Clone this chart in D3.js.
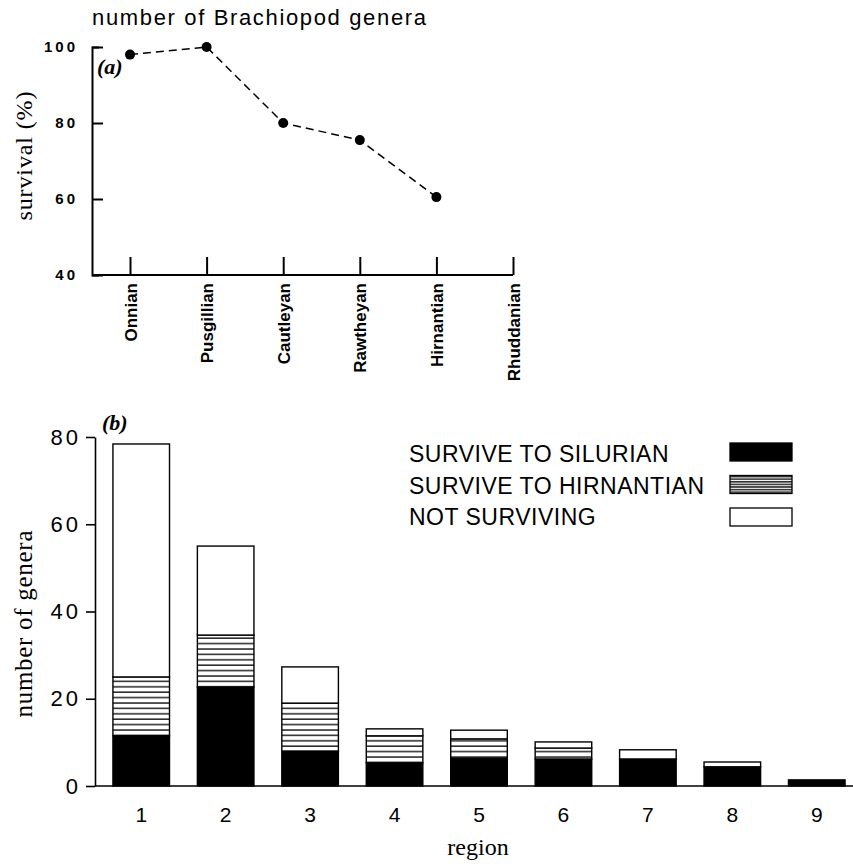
<!DOCTYPE html>
<html>
<head>
<meta charset="utf-8">
<script src="https://cdn.jsdelivr.net/npm/d3@7"></script>
<style>
  body { margin: 0; background: #fff; }
  svg { display: block; }
  .sans { font-family: "Liberation Sans", Arial, sans-serif; }
  .serif { font-family: "Liberation Serif", "Times New Roman", serif; }
</style>
</head>
<body>
<div id="chart"></div>
<script>
// (a) survival by stage
var stages = ["Onnian", "Pusgillian", "Cautleyan", "Rawtheyan", "Hirnantian", "Rhuddanian"];
var survival = [98, 100, 80, 75.5, 60.5];
var survivalTicks = [40, 60, 80, 100];

// (b) genera by region
var regions = ["1", "2", "3", "4", "5", "6", "7", "8", "9"];
var toSilurian   = [11.5, 22.7, 8, 5.3, 6.4, 6.2, 6.2, 4.4, 1.4];
var toHirnantian = [13.5, 11.9, 11, 6.2, 4.4, 2.5, 0, 0, 0];
var notSurviving = [53.4, 20.4, 8.3, 1.6, 2.0, 1.4, 2.1, 1.1, 0];
var generaTicks = [0, 20, 40, 60, 80];
var legendLabels = ["SURVIVE TO SILURIAN", "SURVIVE TO HIRNANTIAN", "NOT SURVIVING"];

var width = 853, height = 864;

var svg = d3.select("#chart")
  .append("svg")
  .attr("width", width)
  .attr("height", height);

var defs = svg.append("defs");

// hatch patterns
var hatch = defs.append("pattern")
  .attr("id", "hatch")
  .attr("patternUnits", "userSpaceOnUse")
  .attr("width", 10)
  .attr("height", 5.4);
hatch.append("rect").attr("width", 10).attr("height", 5.4).attr("fill", "#fff");
hatch.append("line").attr("x1", 0).attr("x2", 10).attr("y1", 1).attr("y2", 1)
  .attr("stroke", "#000").attr("stroke-width", 1.3);

var hatchSmall = defs.append("pattern")
  .attr("id", "hatchSmall")
  .attr("patternUnits", "userSpaceOnUse")
  .attr("width", 10)
  .attr("height", 2.6);
hatchSmall.append("rect").attr("width", 10).attr("height", 2.6).attr("fill", "#fff");
hatchSmall.append("line").attr("x1", 0).attr("x2", 10).attr("y1", 0.8).attr("y2", 0.8)
  .attr("stroke", "#000").attr("stroke-width", 1.3);

/* ---------- panel (a) ---------- */
var ax = d3.scalePoint().domain(stages).range([130, 513]);
var ay = d3.scaleLinear().domain([40, 100]).range([275, 47]);
var axLeft = 92;

svg.append("text")
  .attr("class", "sans")
  .attr("x", 92).attr("y", 25)
  .attr("font-size", 22)
  .attr("letter-spacing", 1.65)
  .text("number of Brachiopod genera");

var gya = svg.append("g")
  .attr("transform", "translate(" + axLeft + ",0)")
  .call(d3.axisLeft(ay).tickValues(survivalTicks).tickSize(-11).tickSizeOuter(-7).tickPadding(14));
gya.selectAll("path, line").attr("stroke", "#000").attr("stroke-width", 2);
gya.selectAll("text")
  .attr("class", "sans")
  .attr("font-size", 15)
  .attr("font-weight", "bold")
  .attr("letter-spacing", 3)
  .attr("fill", "#000");

var gxa = svg.append("g")
  .attr("transform", "translate(0,275)")
  .call(d3.axisBottom(ax).tickSize(-18).tickSizeOuter(0));
gxa.select(".domain").remove();
gxa.selectAll("line").attr("stroke", "#000").attr("stroke-width", 2);
gxa.selectAll("text")
  .attr("class", "sans")
  .attr("font-size", 17)
  .attr("font-weight", "bold")
  .attr("fill", "#000")
  .attr("text-anchor", "end")
  .attr("transform", "rotate(-90)")
  .attr("x", -8)
  .attr("y", 0)
  .attr("dy", "0.36em");

svg.append("line")
  .attr("x1", axLeft).attr("x2", ax(stages[stages.length - 1]))
  .attr("y1", ay(40)).attr("y2", ay(40))
  .attr("stroke", "#000").attr("stroke-width", 2);

var pts = survival.map(function(v, i) { return { stage: stages[i], value: v }; });

svg.append("path")
  .datum(pts)
  .attr("fill", "none")
  .attr("stroke", "#000")
  .attr("stroke-width", 1.5)
  .attr("stroke-dasharray", "8,5")
  .attr("d", d3.line().x(function(d) { return ax(d.stage); }).y(function(d) { return ay(d.value); }));

svg.selectAll("circle.pt")
  .data(pts)
  .enter().append("circle")
  .attr("class", "pt")
  .attr("cx", function(d) { return ax(d.stage); })
  .attr("cy", function(d) { return ay(d.value); })
  .attr("r", 5)
  .attr("fill", "#000");

svg.append("text")
  .attr("class", "serif")
  .attr("x", 97).attr("y", 74)
  .attr("font-size", 22)
  .attr("font-style", "italic")
  .attr("font-weight", "bold")
  .text("(a)");

svg.append("text")
  .attr("class", "serif")
  .attr("transform", "translate(32,156) rotate(-90)")
  .attr("text-anchor", "middle")
  .attr("font-size", 24)
  .attr("textLength", 129)
  .attr("lengthAdjust", "spacing")
  .text("survival (%)");

/* ---------- panel (b) ---------- */
var bxLeft = 95;
var bx = d3.scaleBand().domain(regions).range([99, 859]).paddingInner(0.33).paddingOuter(0.165);
var by = d3.scaleLinear().domain([0, 80]).range([786, 437]);

var rows = regions.map(function(r, i) {
  return { region: r, silurian: toSilurian[i], hirnantian: toHirnantian[i], none: notSurviving[i] };
});
var keys = ["silurian", "hirnantian", "none"];
var fills = { silurian: "#000", hirnantian: "url(#hatch)", none: "#fff" };
var series = d3.stack().keys(keys)(rows);

var gyb = svg.append("g")
  .attr("transform", "translate(" + bxLeft + ",0)")
  .call(d3.axisLeft(by).tickValues(generaTicks).tickSize(9).tickSizeOuter(0).tickPadding(5));
gyb.selectAll("path, line").attr("stroke", "#000").attr("stroke-width", 1.6);
gyb.selectAll("text")
  .attr("class", "sans")
  .attr("font-size", 22)
  .attr("letter-spacing", 3)
  .attr("fill", "#000");

var gxb = svg.append("g")
  .attr("transform", "translate(0,786)")
  .call(d3.axisBottom(bx).tickSize(0).tickPadding(21));
gxb.select(".domain").remove();
gxb.selectAll("text")
  .attr("class", "sans")
  .attr("font-size", 21)
  .attr("fill", "#000");

series.forEach(function(s) {
  svg.append("g")
    .selectAll("rect")
    .data(s.filter(function(d) { return d[1] - d[0] > 0; }))
    .enter().append("rect")
    .attr("x", function(d) { return bx(d.data.region); })
    .attr("y", function(d) { return by(d[1]); })
    .attr("width", bx.bandwidth())
    .attr("height", function(d) { return by(d[0]) - by(d[1]); })
    .attr("fill", fills[s.key])
    .attr("stroke", "#000")
    .attr("stroke-width", 1.4);
});

svg.append("line")
  .attr("x1", bxLeft).attr("x2", width)
  .attr("y1", by(0)).attr("y2", by(0))
  .attr("stroke", "#000").attr("stroke-width", 1.6);

svg.append("text")
  .attr("class", "serif")
  .attr("x", 102).attr("y", 430)
  .attr("font-size", 22)
  .attr("font-style", "italic")
  .attr("font-weight", "bold")
  .text("(b)");

svg.append("text")
  .attr("class", "serif")
  .attr("transform", "translate(32,624) rotate(-90)")
  .attr("text-anchor", "middle")
  .attr("font-size", 25)
  .attr("textLength", 187)
  .attr("lengthAdjust", "spacing")
  .text("number of genera");

svg.append("text")
  .attr("class", "serif")
  .attr("x", 478).attr("y", 855)
  .attr("text-anchor", "middle")
  .attr("font-size", 24)
  .text("region");

// legend
var legendFills = ["#000", "url(#hatchSmall)", "#fff"];
var legend = svg.append("g").attr("class", "legend");
legendLabels.forEach(function(label, i) {
  legend.append("text")
    .attr("class", "sans")
    .attr("x", 409)
    .attr("y", 462 + i * 31.5)
    .attr("font-size", 23)
    .attr("letter-spacing", 0.5)
    .text(label);
  legend.append("rect")
    .attr("x", 730)
    .attr("y", 443 + i * 32.5)
    .attr("width", 62)
    .attr("height", 18)
    .attr("fill", legendFills[i])
    .attr("stroke", "#000")
    .attr("stroke-width", 1.3);
});
</script>
</body>
</html>
